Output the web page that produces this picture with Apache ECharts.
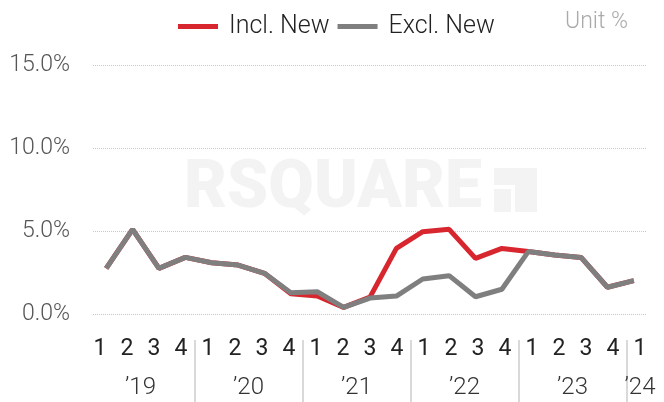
<!DOCTYPE html>
<html>
<head>
<meta charset="utf-8">
<script src="https://cdn.jsdelivr.net/npm/echarts@6/dist/echarts.min.js"></script>
<style>
  html, body { margin: 0; padding: 0; background: #fff; }
  #chart { width: 664px; height: 402px; }
</style>
</head>
<body>
<div id="chart"></div>
<script>
// quarter labels and year labels
const quarters = ['1','2','3','4','1','2','3','4','1','2','3','4','1','2','3','4','1','2','3','4','1'];
const years = ['\u201919','\u201920','\u201921','\u201922','\u201923','\u201924'];
const yearPos = [2, 6, 10, 14, 18, 20.5];   // centre of each year group, in quarters
const yearBreaks = [4, 8, 12, 16, 20];
// vacancy rate, %
const inclNew = [2.75, 5.10, 2.75, 3.41, 3.09, 2.95, 2.45, 1.22, 1.08, 0.40, 1.02, 3.95, 4.96, 5.10, 3.35, 3.95, 3.76, 3.55, 3.41, 1.61, 2.01];
const exclNew = [2.75, 5.10, 2.75, 3.41, 3.09, 2.95, 2.45, 1.28, 1.34, 0.40, 0.96, 1.08, 2.11, 2.31, 1.04, 1.49, 3.76, 3.55, 3.41, 1.61, 2.01];

const chart = echarts.init(document.getElementById('chart'), null, { renderer: 'canvas' });
const font = 'Roboto';

const option = {
  animation: false,
  textStyle: { fontFamily: font },
  legend: {
    data: ['Incl. New', 'Excl. New'],
    left: 173,
    top: 9,
    icon: 'rect',
    itemWidth: 40,
    itemHeight: 5,
    itemGap: 8,
    textStyle: { fontSize: 25, fontWeight: 300, color: '#222', fontFamily: font, padding: [0, 0, 0, 6] }
  },
  graphic: [
    // watermark
    {
      type: 'text', z: 0, silent: true,
      style: { text: 'RSQUARE', x: 184, y: 190, verticalAlign: 'middle', fontSize: 66, fontWeight: 900, fontFamily: font, fill: '#f3f3f3' }
    },
    { type: 'rect', z: 0, silent: true, shape: { x: 494, y: 168, width: 43, height: 17 }, style: { fill: '#f3f3f3' } },
    { type: 'rect', z: 0, silent: true, shape: { x: 494, y: 189, width: 17, height: 23 }, style: { fill: '#f3f3f3' } },
    { type: 'rect', z: 0, silent: true, shape: { x: 515, y: 185, width: 22, height: 27 }, style: { fill: '#f3f3f3' } },
    {
      type: 'text', silent: true,
      style: { text: 'Unit %', x: 628, y: 22, align: 'right', verticalAlign: 'middle', fontSize: 23, fontWeight: 300, fontFamily: font, fill: '#aaa' }
    }
  ],
  grid: [
    { left: 93, right: 17, top: 65, bottom: 88 },
    { left: 86.5, right: 10.5, top: 65, bottom: 88 }
  ],
  xAxis: [
    {
      type: 'category', gridIndex: 0, data: quarters, boundaryGap: true,
      axisLine: { show: false }, axisTick: { show: false }, axisLabel: { show: false }
    },
    {
      type: 'category', gridIndex: 1, data: quarters, boundaryGap: true,
      axisLine: { show: false }, axisTick: { show: false },
      axisLabel: { margin: 24, fontSize: 23, color: '#222', fontFamily: font, interval: 0 }
    },
    {
      type: 'value', gridIndex: 1, min: 0, max: 21, offset: 26, position: 'bottom',
      splitLine: { show: false },
      axisLine: { show: false },
      axisTick: { show: true, customValues: yearBreaks, length: 62, lineStyle: { color: '#d9d9d9', width: 2 } },
      axisLabel: {
        customValues: yearPos, margin: 36, fontSize: 24, fontWeight: 300, color: '#333', fontFamily: font,
        formatter: function (v) { return years[yearPos.indexOf(v)]; }
      }
    }
  ],
  yAxis: [
    {
      type: 'value', gridIndex: 0, min: 0, max: 15, interval: 5,
      axisLine: { show: false }, axisTick: { show: false },
      axisLabel: { margin: 23, fontSize: 23, fontWeight: 300, color: '#555', fontFamily: font,
        formatter: function (v) { return v.toFixed(1) + '%'; } },
      splitLine: { lineStyle: { type: 'dotted', color: '#c8c8c8', width: 1 } }
    },
    {
      type: 'value', gridIndex: 1, min: 0, max: 1, show: false
    }
  ],
  series: [
    {
      name: 'Incl. New', type: 'line', data: inclNew, xAxisIndex: 0, yAxisIndex: 0,
      symbol: 'none', color: '#d8262f', lineStyle: { width: 5, color: '#d8262f' }, z: 3
    },
    {
      name: 'Excl. New', type: 'line', data: exclNew, xAxisIndex: 0, yAxisIndex: 0,
      symbol: 'none', color: '#7f7f7f', lineStyle: { width: 5, color: '#7f7f7f' }, z: 4
    }
  ]
};
chart.setOption(option);
</script>
</body>
</html>
